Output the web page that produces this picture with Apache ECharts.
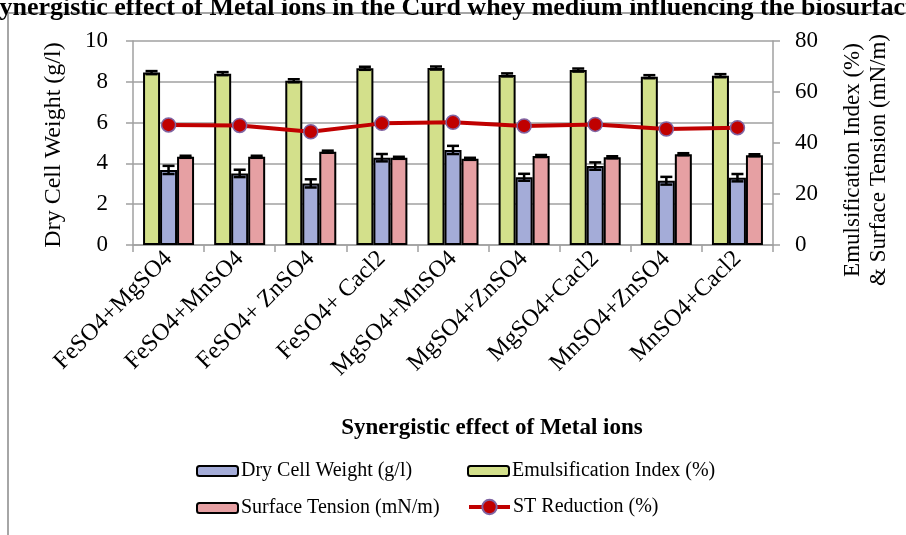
<!DOCTYPE html>
<html>
<head>
<meta charset="utf-8">
<script src="https://cdn.jsdelivr.net/npm/echarts@6/dist/echarts.min.js"></script>
<style>html,body{margin:0;padding:0;background:#fff;}#c{width:906px;height:535px;}</style>
</head>
<body>
<div id="c"></div>
<script>
var categories = ['FeSO4+MgSO4','FeSO4+MnSO4','FeSO4+ ZnSO4','FeSO4+ Cacl2','MgSO4+MnSO4','MgSO4+ZnSO4','MgSO4+Cacl2','MnSO4+ZnSO4','MnSO4+Cacl2'];
var dryCellWeight = [3.68,3.51,3.02,4.28,4.66,3.32,3.87,3.15,3.30];
var dryCellWeightErr = [0.2,0.18,0.2,0.18,0.2,0.17,0.18,0.19,0.18];
var emulsificationIndex = [67.6,67.2,64.4,69.3,69.4,66.7,68.6,66.0,66.4];
var emulsificationErr = [0.6,0.6,0.6,0.6,0.6,0.6,0.6,0.6,0.6];
var surfaceTension = [34.6,34.6,36.6,34.2,33.8,34.9,34.4,35.6,35.2];
var surfaceTensionErr = [0.4,0.4,0.4,0.4,0.4,0.4,0.4,0.4,0.4];
var stReduction = [47.1,46.9,44.4,47.7,48.1,46.7,47.3,45.5,46.0];
var leftTicks = {min:0,max:10,interval:2};
var rightTicks = {min:0,max:80,interval:20};

var FONT = 'Liberation Serif';
var GREEN = '#d3e08b', BLUE = '#a4acd8', PINK = '#e6a0a3', RED = '#c00000';
var GRAY = '#a0a0a0';

function errData(vals, errs){ return vals.map(function(v,i){ return [i, v, errs[i]]; }); }
function errRender(offset){
  return function(params, api){
    var i = api.value(0), v = api.value(1), e = api.value(2);
    var x = api.coord([i, v])[0] + offset;
    var hi = api.coord([i, v + e])[1];
    var lo = api.coord([i, v - e])[1];
    var st = {stroke:'#000', lineWidth:2.5};
    return {type:'group', children:[
      {type:'line', shape:{x1:x,y1:hi,x2:x,y2:lo}, style:st},
      {type:'line', shape:{x1:x-6,y1:hi,x2:x+6,y2:hi}, style:st},
      {type:'line', shape:{x1:x-6,y1:lo,x2:x+6,y2:lo}, style:st}
    ]};
  };
}

var chart = echarts.init(document.getElementById('c'));
var txt = {fontFamily:FONT, fontSize:23, color:'#000'};
function legend(name, left, top, extra){
  var o = {data:[name], left:left, top:top, itemWidth:41, itemHeight:10, itemGap:0, padding:0,
    textStyle:{fontFamily:FONT, fontSize:20, color:'#000', padding:[0,0,0,-2]}, selectedMode:false};
  if (extra) Object.assign(o, extra);
  return o;
}
chart.setOption({
  animation:false,
  backgroundColor:'#fff',
  graphic:[
    {type:'rect', z:-10, shape:{x:8,y:13,width:1000,height:600}, style:{fill:'none', stroke:'#a6a6a6', lineWidth:2}},
    {type:'text', x:-15, y:8, style:{text:'Synergistic effect of Metal ions in the Curd whey medium influencing the biosurfactant production', font:'bold 26px "Liberation Serif"', fill:'#000', textAlign:'left', textVerticalAlign:'middle'}},
    {type:'text', x:54, y:145, rotation:Math.PI/2, style:{text:'Dry Cell Weight (g/l)', font:'24px "Liberation Serif"', fill:'#000', textAlign:'center', textVerticalAlign:'middle'}},
    {type:'text', x:866, y:160, rotation:Math.PI/2, style:{text:'Emulsification Index (%)\n& Surface Tension (mN/m)', font:'23px "Liberation Serif"', fill:'#000', textAlign:'center', textVerticalAlign:'middle', lineHeight:26}},
    {type:'text', x:492, y:428, style:{text:'Synergistic effect of Metal ions', font:'bold 23px "Liberation Serif"', fill:'#000', textAlign:'center', textVerticalAlign:'middle'}}
  ],
  legend:[
    legend('Dry Cell Weight (g/l)', 196, 461),
    legend('Emulsification Index (%)', 467, 461),
    legend('Surface Tension (mN/m)', 196, 498),
    legend('ST Reduction (%)', 467, 497, {itemHeight:18, lineStyle:{width:4, color:RED}})
  ],
  grid:{left:133, right:133, top:41, bottom:290},
  xAxis:{type:'category', data:categories, boundaryGap:true,
    axisLine:{lineStyle:{color:GRAY, width:1.5}},
    axisTick:{show:true, length:7, lineStyle:{color:GRAY, width:1.5}},
    axisLabel:Object.assign({rotate:45, interval:0, margin:10}, txt, {fontSize:24}),
    splitLine:{show:false}},
  yAxis:[
    {type:'value', min:leftTicks.min, max:leftTicks.max, interval:leftTicks.interval, position:'left',
      axisLine:{show:true, lineStyle:{color:GRAY, width:1.5}},
      axisTick:{show:true, length:7, lineStyle:{color:GRAY, width:1.5}},
      axisLabel:Object.assign({margin:25}, txt),
      splitLine:{show:true, lineStyle:{color:GRAY, width:1.5}}},
    {type:'value', min:rightTicks.min, max:rightTicks.max, interval:rightTicks.interval, position:'right',
      axisLine:{show:true, lineStyle:{color:GRAY, width:1.5}},
      axisTick:{show:true, length:7, lineStyle:{color:GRAY, width:1.5}},
      axisLabel:Object.assign({margin:22}, txt),
      splitLine:{show:false}}
  ],
  series:[
    {name:'Emulsification Index (%)', type:'bar', yAxisIndex:1, data:emulsificationIndex, barWidth:17, barGap:'0%',
      itemStyle:{color:GREEN, borderColor:'#000', borderWidth:2}},
    {name:'Dry Cell Weight (g/l)', type:'bar', yAxisIndex:0, data:dryCellWeight, barWidth:17, barGap:'0%',
      itemStyle:{color:BLUE, borderColor:'#000', borderWidth:2}},
    {name:'Surface Tension (mN/m)', type:'bar', yAxisIndex:1, data:surfaceTension, barWidth:17, barGap:'0%',
      itemStyle:{color:PINK, borderColor:'#000', borderWidth:2}},
    {type:'custom', yAxisIndex:1, data:errData(emulsificationIndex, emulsificationErr), renderItem:errRender(-17), z:5, encode:{x:0,y:1}},
    {type:'custom', yAxisIndex:0, data:errData(dryCellWeight, dryCellWeightErr), renderItem:errRender(0), z:5, encode:{x:0,y:1}},
    {type:'custom', yAxisIndex:1, data:errData(surfaceTension, surfaceTensionErr), renderItem:errRender(17), z:5, encode:{x:0,y:1}},
    {name:'ST Reduction (%)', type:'line', yAxisIndex:1, data:stReduction, z:10,
      lineStyle:{color:RED, width:4}, symbol:'circle', symbolSize:14,
      itemStyle:{color:RED, borderColor:'#8064a2', borderWidth:1.5}}
  ]
});
</script>
</body>
</html>
